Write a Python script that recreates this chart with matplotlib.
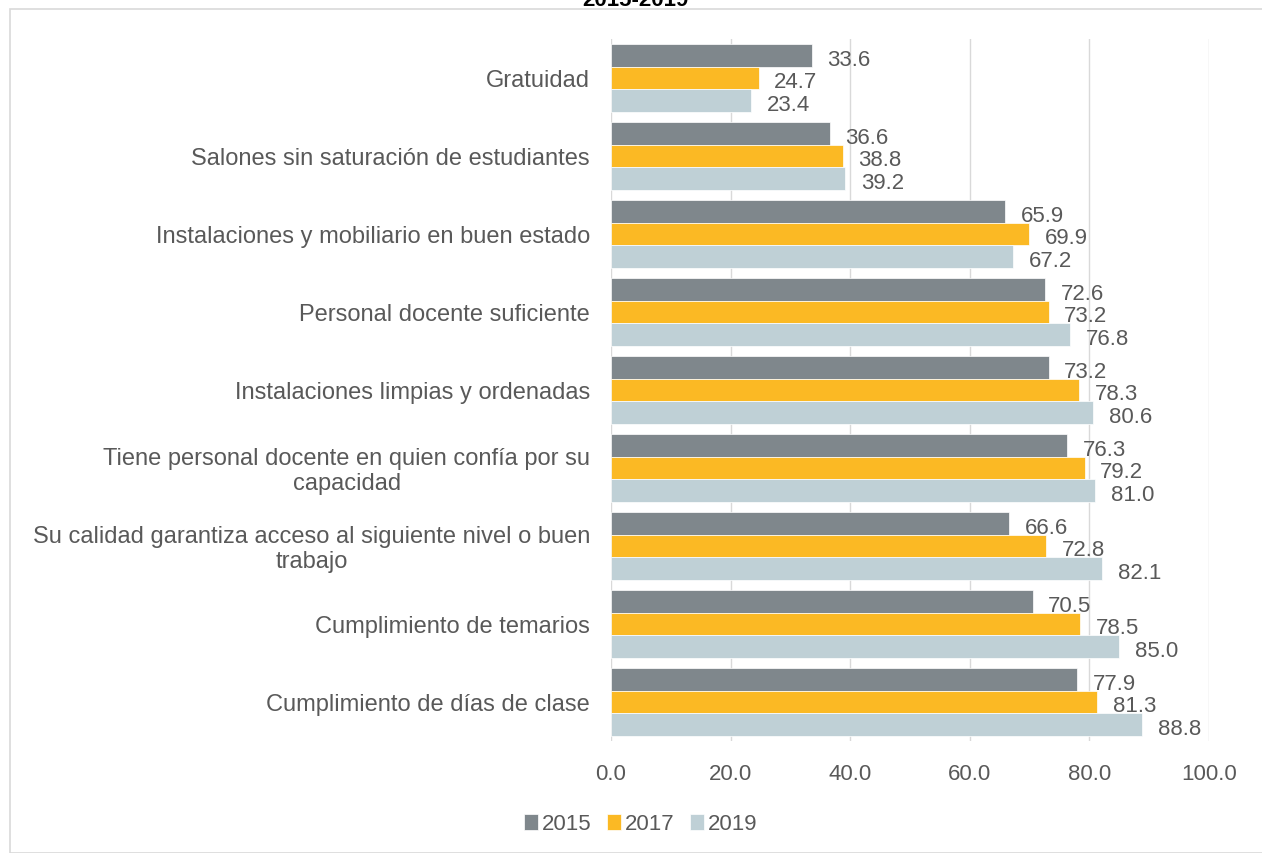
import matplotlib
matplotlib.use("Agg")
import matplotlib.pyplot as plt
import numpy as np
from matplotlib.patches import Rectangle

categories = [
    "Gratuidad",
    "Salones sin saturación de estudiantes",
    "Instalaciones y mobiliario en buen estado",
    "Personal docente suficiente",
    "Instalaciones limpias y ordenadas",
    "Tiene personal docente en quien confía por su\ncapacidad",
    "Su calidad garantiza acceso al siguiente nivel o buen\ntrabajo",
    "Cumplimiento de temarios",
    "Cumplimiento de días de clase",
]
years = ["2015", "2017", "2019"]
v2015 = [33.6, 36.6, 65.9, 72.6, 73.2, 76.3, 66.6, 70.5, 77.9]
v2017 = [24.7, 38.8, 69.9, 73.2, 78.3, 79.2, 72.8, 78.5, 81.3]
v2019 = [23.4, 39.2, 67.2, 76.8, 80.6, 81.0, 82.1, 85.0, 88.8]
colors = ["#7f878c", "#fbb924", "#bfd0d6"]
txt = "#595959"

plt.rcParams['font.family'] = ['Liberation Sans', 'DejaVu Sans']

fig = plt.figure(figsize=(12.62, 8.54), dpi=100)
fig.patches.append(Rectangle((10/1262, 0), 1.0, 1 - 10/854, transform=fig.transFigure,
                             fill=False, edgecolor="#d9d9d9", linewidth=1.2))
# title is cut off at the top edge in the original
fig.text(635/1262, 1 - 1/854, "2015-2019", ha="center", va="center",
         fontsize=16, fontweight="bold", color="black")

ax = fig.add_axes([611/1262, 1 - 742/854, (1209 - 611)/1262, 702/854])

y = np.arange(len(categories))
h = 0.287
for i, (vals, col, yr) in enumerate(zip([v2015, v2017, v2019], colors, years)):
    pos = y + (i - 1) * h
    ax.barh(pos, vals, height=h, color=col, label=yr, zorder=3,
            edgecolor="white", linewidth=0.5)
    for p, v in zip(pos, vals):
        ax.text(v + 2.6, p + 0.05, f"{v:.1f}", va="center", ha="left",
                fontsize=16, color=txt)

ax.set_ylim(len(categories) - 0.5, -0.5)
ax.set_xlim(0, 100)
ax.set_xticks(np.arange(0, 101, 20))
ax.set_xticklabels([f"{t:.1f}" for t in range(0, 101, 20)])
ax.set_yticks(y)
ax.set_yticklabels([])
# category labels drawn by hand so wrapped lines stay centred
for yi, lab in zip(y, categories):
    ax.text(-0.035, yi + 0.03, lab, transform=ax.get_yaxis_transform(), ha="right",
            va="center", multialignment="center", fontsize=17, color=txt)
ax.tick_params(axis="both", length=0, colors=txt)
ax.tick_params(axis="x", pad=16, labelsize=16)
ax.grid(axis="x", color="#d9d9d9", linewidth=1, zorder=0)
for s in ax.spines.values():
    s.set_visible(False)

ax.legend(loc="center", bbox_to_anchor=(641/1262, 1 - 825/854), bbox_transform=fig.transFigure,
          ncol=3, frameon=False, fontsize=16, labelcolor=txt, handlelength=0.6,
          handleheight=0.7, handletextpad=0.2, columnspacing=0.7)

fig.savefig("out.png", dpi=100)
